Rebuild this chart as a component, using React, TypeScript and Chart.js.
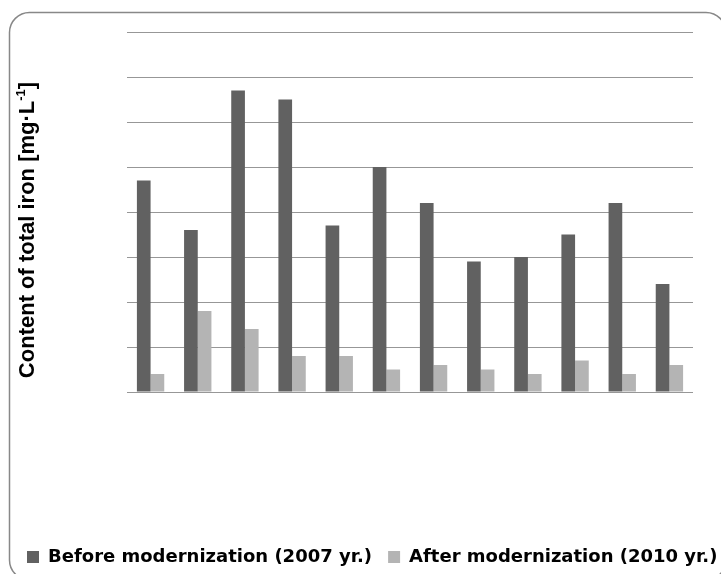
import { useEffect, useRef } from 'react';
import { Chart, registerables } from 'chart.js';

Chart.register(...registerables);

// Sampling points (category axis, labels not shown)
const categories = ['1', '2', '3', '4', '5', '6', '7', '8', '9', '10', '11', '12'];

// Total iron content [mg/L]
const before2007 = [0.47, 0.36, 0.67, 0.65, 0.37, 0.5, 0.42, 0.29, 0.3, 0.35, 0.42, 0.24];
const after2010 = [0.04, 0.18, 0.14, 0.08, 0.08, 0.05, 0.06, 0.05, 0.04, 0.07, 0.04, 0.06];

const seriesNames = ['Before modernization (2007 yr.)', 'After modernization (2010 yr.)'];
const seriesColors = ['#616161', '#b4b4b4'];

const yMin = 0;
const yMax = 0.8;
const yStep = 0.1;

const yTitleMain = 'Content of total iron [mg·L';
const yTitleSup = '-1';
const yTitleEnd = ']';

// Rounded outer frame of the chart
const framePlugin = {
  id: 'frame',
  beforeDraw(chart: any) {
    const ctx = chart.ctx as CanvasRenderingContext2D;
    const x0 = 9.5, y0 = 12.5, x1 = 726, y1 = 580, r = 20;
    ctx.save();
    ctx.beginPath();
    ctx.moveTo(x0 + r, y0);
    ctx.lineTo(x1 - r, y0);
    ctx.arcTo(x1, y0, x1, y0 + r, r);
    ctx.lineTo(x1, y1 - r);
    ctx.arcTo(x1, y1, x1 - r, y1, r);
    ctx.lineTo(x0 + r, y1);
    ctx.arcTo(x0, y1, x0, y1 - r, r);
    ctx.lineTo(x0, y0 + r);
    ctx.arcTo(x0, y0, x0 + r, y0, r);
    ctx.closePath();
    ctx.strokeStyle = '#888888';
    ctx.lineWidth = 1.5;
    ctx.stroke();
    ctx.restore();
  },
};

// Vertical axis title with a superscript exponent
const yTitlePlugin = {
  id: 'yTitle',
  afterDraw(chart: any) {
    const ctx = chart.ctx as CanvasRenderingContext2D;
    const area = chart.chartArea;
    const cx = 28;
    const cy = (area.top + area.bottom) / 2 + 18;
    const mainFont = 'bold 22px "Liberation Sans", Arial, sans-serif';
    const supFont = 'bold 13px "Liberation Sans", Arial, sans-serif';
    ctx.save();
    ctx.translate(cx, cy);
    ctx.rotate(-Math.PI / 2);
    ctx.fillStyle = '#000000';
    ctx.textBaseline = 'middle';
    ctx.textAlign = 'left';
    ctx.font = mainFont;
    const w1 = ctx.measureText(yTitleMain).width;
    const w3 = ctx.measureText(yTitleEnd).width;
    ctx.font = supFont;
    const w2 = ctx.measureText(yTitleSup).width;
    let x = -(w1 + w2 + w3) / 2;
    ctx.font = mainFont;
    ctx.fillText(yTitleMain, x, 0);
    x += w1;
    ctx.font = supFont;
    ctx.fillText(yTitleSup, x, -7);
    x += w2;
    ctx.font = mainFont;
    ctx.fillText(yTitleEnd, x, 0);
    ctx.restore();
  },
};

export default function App() {
  const canvasRef = useRef<HTMLCanvasElement | null>(null);

  useEffect(() => {
    if (!canvasRef.current) return;
    const chart = new Chart(canvasRef.current, {
      type: 'bar',
      data: {
        labels: categories,
        datasets: [
          {
            label: seriesNames[0],
            data: before2007,
            backgroundColor: seriesColors[0],
            borderWidth: 0,
            categoryPercentage: 0.58,
            barPercentage: 1,
          },
          {
            label: seriesNames[1],
            data: after2010,
            backgroundColor: seriesColors[1],
            borderWidth: 0,
            categoryPercentage: 0.58,
            barPercentage: 1,
          },
        ],
      },
      options: {
        animation: false,
        responsive: false,
        devicePixelRatio: 1,
        layout: { padding: { left: 11, right: -30, top: 32, bottom: -2 } },
        plugins: {
          legend: {
            position: 'bottom',
            align: 'start',
            labels: {
              boxWidth: 12,
              boxHeight: 12,
              padding: 16,
              color: '#000000',
              font: { family: '"DejaVu Sans"', size: 18, weight: 'bold' },
            },
          },
          tooltip: { enabled: false },
        },
        scales: {
          x: {
            grid: { display: false },
            border: { display: false },
            ticks: { display: false },
            afterFit: (s: any) => {
              s.height = 140;
            },
          },
          y: {
            min: yMin,
            max: yMax,
            ticks: { display: false, stepSize: yStep },
            grid: { color: '#979797', lineWidth: 1, drawTicks: false },
            border: { display: false },
            afterFit: (s: any) => {
              s.width = 116;
            },
          },
          yRight: {
            type: 'linear',
            position: 'right',
            grid: { display: false },
            border: { display: false },
            ticks: { display: false },
            afterFit: (s: any) => {
              s.width = 58;
            },
          },
        },
      },
      plugins: [framePlugin, yTitlePlugin],
    });
    return () => chart.destroy();
  }, []);

  return (
    <div style={{ position: 'absolute', left: 0, top: 0, width: 721, height: 574, background: '#ffffff' }}>
      <canvas ref={canvasRef} width={721} height={574} />
    </div>
  );
}
